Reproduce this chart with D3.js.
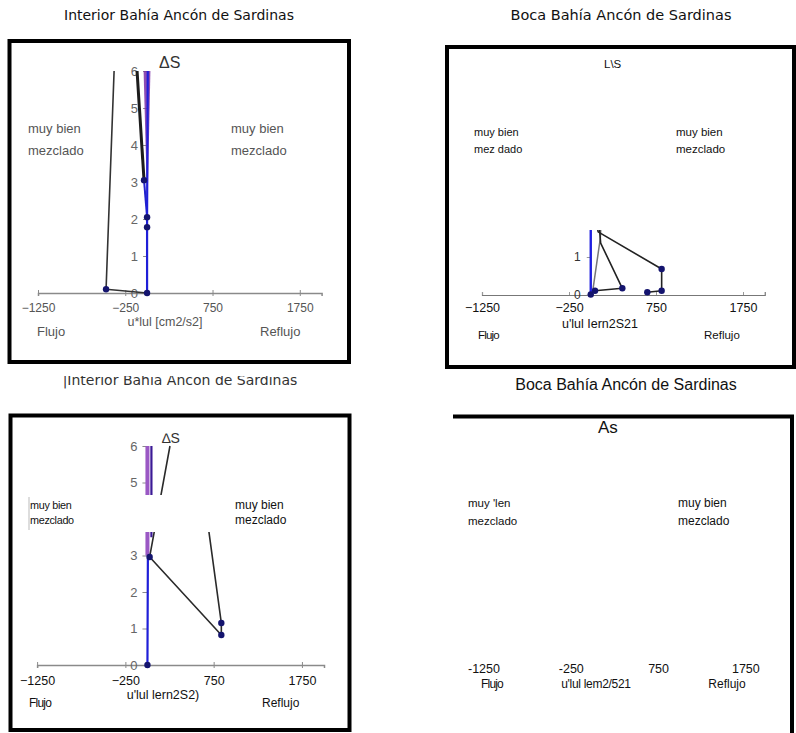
<!DOCTYPE html>
<html>
<head>
<meta charset="utf-8">
<script src="https://cdn.jsdelivr.net/npm/d3@7"></script>
<style>
  body { margin: 0; background: #fff; }
  svg { display: block; }
</style>
</head>
<body>
<svg id="chart" width="796" height="733"></svg>
<script>
// ejes comunes
const xTicks = [-1250, -250, 750, 1750];
const xDomain = [-1250, 2000];
const yTicks = [0, 1, 2, 3, 4, 5, 6];

// Interior, arriba  [u*|u|, dS]
const intTopGray = [[-378, 6], [-470, 0.1], [0, 0]];
const intTopBlack = [[-115, 6], [-35, 3.05]];
const intTopLink = [[-35, 3.05], [0, 2.05]];
const intTopBlue = [[0, 0], [0, 1.78], [0, 2.05], [8, 6]];
const intTopPurple = [[-40, 6], [38, 6], [4, 2.2]];
const intTopPts = [[-470, 0.1], [0, 0], [0, 1.78], [0, 2.05], [-35, 3.05]];

// Boca, arriba
const bocTopA = [[49, 0.1], [363, 0.165], [114, 1.37], [95, 1.9]];
const bocTopB = [[650, 0.06], [815, 0.1], [815, 0.68], [85, 1.67], [60, 2.0]];
const bocTopGray = [[20, 0.05], [110, 1.5], [120, 2]];
const bocTopBlue = [[0, 0], [0, 2]];
const bocTopPts = [[0, 0], [49, 0.1], [363, 0.165], [650, 0.06], [815, 0.1], [815, 0.68]];

// Interior, abajo
const intBotPurple = [[0, 6], [0, 3]];
const intBotViolet = [[45, 6], [45, 3.5]];
const intBotBlue = [[0, 0], [5, 3], [5, 4.5]];
const intBotLine = [[255, 6], [25, 2.96], [837, 0.82], [837, 1.15], [660, 4.3]];
const intBotPts = [[0, 0], [25, 2.96], [837, 0.82], [837, 1.15]];

const svg = d3.select("#chart");
const defs = svg.append("defs");

function txt(x, y, s, o = {}) {
  return svg.append("text")
    .attr("x", x).attr("y", y)
    .attr("text-anchor", o.anchor || "start")
    .style("font-family", o.font || "'Liberation Sans', Arial, sans-serif")
    .style("font-size", (o.size || 12) + "px")
    .style("letter-spacing", o.ls || null)
    .attr("fill", o.color || "#111")
    .text(s);
}

function path(g, data, x, y, color, w) {
  g.append("path")
    .datum(data)
    .attr("d", d3.line().x(d => x(d[0])).y(d => y(d[1])))
    .attr("fill", "none")
    .attr("stroke", color)
    .attr("stroke-width", w)
    .attr("stroke-linejoin", "round");
}

function dots(g, data, x, y, r) {
  g.selectAll(null).data(data).enter().append("circle")
    .attr("cx", d => x(d[0])).attr("cy", d => y(d[1]))
    .attr("r", r).attr("fill", "#14146e");
}

// titulos
const dv = "'DejaVu Sans', Verdana, sans-serif";
txt(179, 20, "Interior Bahía Ancón de Sardinas", {anchor: "middle", size: 14, font: dv});
txt(621, 20, "Boca Bahía Ancón de Sardinas", {anchor: "middle", size: 14.5, font: dv});
defs.append("clipPath").attr("id", "cutTitle")
  .append("rect").attr("x", 0).attr("y", 376).attr("width", 400).attr("height", 30);
txt(180, 385, "|Interior Bahía Ancón de Sardinas", {anchor: "middle", size: 14, font: dv, color: "#333"})
  .attr("clip-path", "url(#cutTitle)");
txt(626, 390, "Boca Bahía Ancón de Sardinas", {anchor: "middle", size: 16});

// ---------- panel 1: Interior arriba ----------
{
  const x = d3.scaleLinear().domain(xDomain).range([38, 321.6]);
  const y = d3.scaleLinear().domain([0, 6]).range([293, 71]);
  svg.append("rect").attr("x", 9.5).attr("y", 41).attr("width", 339.5).attr("height", 321)
    .attr("fill", "none").attr("stroke", "#000").attr("stroke-width", 4);

  const gx = svg.append("g").attr("transform", "translate(0,293)")
    .call(d3.axisBottom(x).tickValues(xTicks).tickSize(3).tickPadding(7).tickFormat(d3.format("d")));
  gx.select(".domain").attr("stroke", "#8a8a8a").attr("stroke-width", 1.5);
  gx.selectAll(".tick line").attr("stroke", "#8a8a8a").attr("y1", -3);
  gx.selectAll("text").attr("fill", "#555").style("font-size", "12px")
    .style("font-family", "'Liberation Sans', Arial, sans-serif");

  const gy = svg.append("g").attr("transform", `translate(${x(0)},0)`)
    .call(d3.axisLeft(y).tickValues(yTicks).tickSize(4).tickPadding(5).tickFormat(d3.format("d")));
  gy.select(".domain").remove();
  gy.selectAll(".tick line").attr("stroke", "#8a8a8a");
  gy.selectAll("text").attr("fill", "#666").style("font-size", "13px")
    .style("font-family", "'Liberation Sans', Arial, sans-serif");

  const g = svg.append("g");
  g.append("path").datum(intTopPurple)
    .attr("d", d3.line().x(d => x(d[0])).y(d => y(d[1])).curve(d3.curveLinearClosed))
    .attr("fill", "#7a2fa6").attr("opacity", 0.85);
  path(g, intTopGray, x, y, "#333", 1.6);
  path(g, intTopBlack, x, y, "#1c1c1c", 3);
  path(g, intTopLink, x, y, "#2222cc", 2);
  path(g, intTopBlue, x, y, "#1f1fd8", 2.2);
  dots(g, intTopPts, x, y, 3.2);

  txt(159, 68, "ΔS", {size: 16, color: "#333"});
  txt(28, 133, "muy bien", {size: 13, color: "#555"});
  txt(28, 155, "mezclado", {size: 13, color: "#555"});
  txt(231, 133, "muy bien", {size: 13, color: "#555"});
  txt(231, 155, "mezclado", {size: 13, color: "#555"});
  txt(165, 326, "u*lul [cm2/s2]", {anchor: "middle", size: 12.5, color: "#555"});
  txt(37, 336, "Flujo", {size: 13, color: "#555"});
  txt(260, 336, "Reflujo", {size: 13, color: "#555"});
}

// ---------- panel 2: Boca arriba ----------
{
  const x = d3.scaleLinear().domain(xDomain).range([482, 764.75]);
  const y = d3.scaleLinear().domain([0, 6]).range([294.5, 69.5]);
  svg.append("rect").attr("x", 447).attr("y", 47).attr("width", 347).attr("height", 320)
    .attr("fill", "none").attr("stroke", "#000").attr("stroke-width", 4);

  const gx = svg.append("g").attr("transform", "translate(0,295)")
    .call(d3.axisBottom(x).tickValues(xTicks).tickSize(-3).tickPadding(8).tickFormat(d3.format("d")));
  gx.select(".domain").attr("stroke", "#777").attr("stroke-width", 1.2);
  gx.selectAll(".tick line").attr("stroke", "#999");
  gx.selectAll("text").attr("fill", "#111").style("font-size", "12.5px")
    .style("font-family", "'Liberation Sans', Arial, sans-serif");

  const gy = svg.append("g").attr("transform", `translate(${x(0)},0)`)
    .call(d3.axisLeft(y).tickValues([0, 1]).tickSize(4).tickPadding(6).tickFormat(d3.format("d")));
  gy.select(".domain").remove();
  gy.selectAll(".tick line").attr("stroke", "#999");
  gy.selectAll("text").attr("fill", "#333").style("font-size", "12px")
    .style("font-family", "'Liberation Sans', Arial, sans-serif");

  defs.append("clipPath").attr("id", "clipBoca")
    .append("rect").attr("x", 470).attr("y", 230).attr("width", 320).attr("height", 80);
  const g = svg.append("g").attr("clip-path", "url(#clipBoca)");
  path(g, bocTopGray, x, y, "#777", 1.5);
  path(g, bocTopA, x, y, "#222", 1.6);
  path(g, bocTopB, x, y, "#222", 1.6);
  path(g, bocTopBlue, x, y, "#1f1fe0", 2.4);
  dots(g, bocTopPts, x, y, 3.2);

  txt(604, 68, "L\\S", {size: 11.5});
  txt(474, 136, "muy bien", {size: 11});
  txt(474, 153, "mez dado", {size: 11});
  txt(676, 136, "muy bien", {size: 11.5});
  txt(676, 153, "mezclado", {size: 11.5});
  txt(600, 328, "u'lul Iern2S21", {anchor: "middle", size: 12.5});
  txt(478, 339, "Flujo", {size: 11.5, ls: "-0.8px"});
  txt(704, 339, "Reflujo", {size: 11.5});
}

// ---------- panel 3: Interior abajo ----------
{
  const x = d3.scaleLinear().domain(xDomain).range([37.1, 324]);
  const y = d3.scaleLinear().domain([0, 6]).range([665, 446]);
  svg.append("rect").attr("x", 10.5).attr("y", 415.5).attr("width", 339).attr("height", 314.5)
    .attr("fill", "none").attr("stroke", "#000").attr("stroke-width", 4);

  const gx = svg.append("g").attr("transform", "translate(0,665)")
    .call(d3.axisBottom(x).tickValues(xTicks).tickSize(3).tickPadding(8).tickFormat(d3.format("d")));
  gx.select(".domain").attr("stroke", "#8a8a8a").attr("stroke-width", 1.5);
  gx.selectAll(".tick line").attr("stroke", "#8a8a8a").attr("y1", -3);
  gx.selectAll("text").attr("fill", "#111").style("font-size", "12.5px")
    .style("font-family", "'Liberation Sans', Arial, sans-serif");

  const gy = svg.append("g").attr("transform", `translate(${x(0)},0)`)
    .call(d3.axisLeft(y).tickValues(yTicks).tickSize(5).tickPadding(5).tickFormat(d3.format("d")));
  gy.select(".domain").remove();
  gy.selectAll(".tick line").attr("stroke", "#8a8a8a");
  gy.selectAll("text").attr("fill", "#666").style("font-size", "13px")
    .style("font-family", "'Liberation Sans', Arial, sans-serif");

  const g = svg.append("g");
  path(g, intBotBlue, x, y, "#1f1fd8", 2.2);
  path(g, intBotPurple, x, y, "#9a58c4", 4);
  path(g, intBotViolet, x, y, "#3c1a96", 2.2);
  path(g, intBotLine, x, y, "#2a2a2a", 1.6);
  dots(g, intBotPts, x, y, 3.2);

  // recuadro blanco de las etiquetas
  svg.append("rect").attr("x", 28).attr("y", 495).attr("width", 264).attr("height", 37).attr("fill", "#fff");
  svg.append("line").attr("x1", 29).attr("x2", 29).attr("y1", 497).attr("y2", 530)
    .attr("stroke", "#aaa").attr("stroke-width", 0.8);

  txt(162, 443, "∆S", {size: 14, color: "#333"});
  txt(30, 509, "muy bien", {size: 10.8, ls: "-0.3px"});
  txt(30, 524, "mezclado", {size: 10.8, ls: "-0.3px"});
  txt(235, 509, "muy bien", {size: 12});
  txt(235, 524, "mezclado", {size: 12});
  txt(163, 699, "u'lul lern2S2)", {anchor: "middle", size: 12.5});
  txt(29, 707, "Flujo", {size: 12, ls: "-0.8px"});
  txt(262, 707, "Reflujo", {size: 12});
}

// ---------- panel 4: Boca abajo (sin datos) ----------
{
  const x = d3.scaleLinear().domain(xDomain).range([484, 767.7]);
  svg.append("path").attr("d", "M453,416.5H792V733")
    .attr("fill", "none").attr("stroke", "#000").attr("stroke-width", 4);

  svg.append("g").selectAll(null).data(xTicks).enter().append("text")
    .attr("x", d => x(d)).attr("y", 673)
    .attr("text-anchor", "middle")
    .style("font-family", "'Liberation Sans', Arial, sans-serif")
    .style("font-size", "12.5px")
    .attr("fill", "#111")
    .text(d => d);

  txt(598, 433, "As", {size: 17});
  txt(468, 507, "muy 'len", {size: 11.5});
  txt(468, 525, "mezclado", {size: 11.5});
  txt(678, 507, "muy bien", {size: 12});
  txt(678, 525, "mezclado", {size: 12});
  txt(492, 688, "Flujo", {anchor: "middle", size: 12, ls: "-0.8px"});
  txt(596, 688, "u'lul lem2/521", {anchor: "middle", size: 12, ls: "-0.3px"});
  txt(727, 688, "Reflujo", {anchor: "middle", size: 12});
}
</script>
</body>
</html>
